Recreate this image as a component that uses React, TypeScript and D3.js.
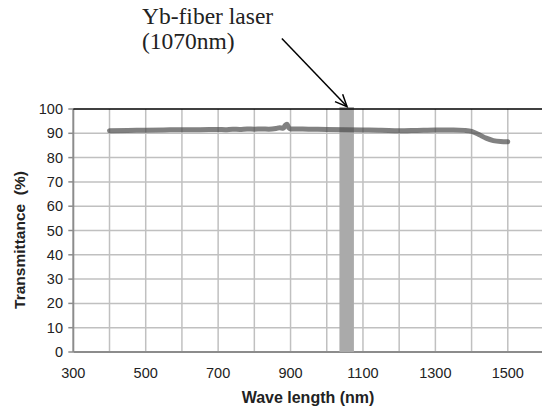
import React from "react";
import * as d3 from "d3";

const wavelengths = [400, 450, 500, 550, 600, 650, 700, 720, 740, 760, 780, 800, 820, 840, 860, 870, 880, 885, 890, 895, 900, 950, 1000, 1050, 1100, 1150, 1200, 1250, 1300, 1350, 1380, 1400, 1420, 1440, 1460, 1480, 1500];
const transmittance = [91.1, 91.2, 91.3, 91.4, 91.5, 91.5, 91.6, 91.5, 91.7, 91.6, 91.8, 91.7, 91.8, 91.7, 92.0, 92.3, 92.1, 93.2, 93.7, 92.3, 91.8, 91.7, 91.6, 91.5, 91.4, 91.3, 91.0, 91.2, 91.4, 91.4, 91.2, 90.8, 89.5, 88.0, 87.0, 86.6, 86.5];
const xTicks = [300, 500, 700, 900, 1100, 1300, 1500];
const xGrid = [400, 500, 600, 700, 800, 900, 1000, 1100, 1200, 1300, 1400, 1500];
const yTicks = [0, 10, 20, 30, 40, 50, 60, 70, 80, 90, 100];
const laserBand = [1035, 1075];
const annotationLines = ["Yb-fiber laser", "(1070nm)"];
const arrowFrom = [876, 129];
const arrowTo = [1056, 101];

export default function App() {
  const W = 542, H = 412;
  const x = d3.scaleLinear().domain([300, 1600]).range([73.3, 544]);
  const y = d3.scaleLinear().domain([0, 100]).range([352, 109]);
  const pts = wavelengths.map((w, i) => [w, transmittance[i]] as [number, number]);
  const line = d3.line<[number, number]>().x(d => x(d[0])).y(d => y(d[1])).curve(d3.curveMonotoneX);
  const ax = x(arrowFrom[0]), ay = y(arrowFrom[1]);
  const bx = x(arrowTo[0]), by = y(arrowTo[1]);
  const ang = Math.atan2(by - ay, bx - ax);
  const hl = 13, ha = 0.42;
  const h1 = [bx - hl * Math.cos(ang - ha), by - hl * Math.sin(ang - ha)];
  const h2 = [bx - hl * Math.cos(ang + ha), by - hl * Math.sin(ang + ha)];
  const sans = "Liberation Sans, Arial, sans-serif";
  const serif = "Liberation Serif, Times New Roman, serif";
  return (
    <svg width={W} height={H} style={{ position: "absolute", left: 0, top: 0, background: "#fff" }}>
      {xGrid.map(v => (
        <line key={"gx" + v} x1={x(v)} x2={x(v)} y1={y(0)} y2={y(100)} stroke="#c0c0c0" strokeWidth={1.5} />
      ))}
      {yTicks.filter(v => v > 0 && v < 100).map(v => (
        <line key={"gy" + v} x1={x(300)} x2={W} y1={y(v)} y2={y(v)} stroke="#c0c0c0" strokeWidth={1.5} />
      ))}
      <line x1={x(300)} x2={W} y1={y(0)} y2={y(0)} stroke="#8c8c8c" strokeWidth={2} />
      <line x1={x(300)} x2={x(300)} y1={y(0)} y2={y(100)} stroke="#8c8c8c" strokeWidth={2} />
      {yTicks.map(v => (
        <line key={"ty" + v} x1={x(300) - 5} x2={x(300)} y1={y(v)} y2={y(v)} stroke="#8c8c8c" strokeWidth={1.5} />
      ))}
      <rect x={x(laserBand[0])} y={y(100) - 2} width={x(laserBand[1]) - x(laserBand[0])} height={y(0) - y(100) + 2} fill="#aaaaaa" />
      <path d={line(pts) || ""} fill="none" stroke="#484848" strokeOpacity={0.69} strokeWidth={5} strokeLinejoin="round" strokeLinecap="round" />
      <line x1={x(300)} x2={W} y1={y(100)} y2={y(100)} stroke="#000" strokeWidth={1.5} />
      {yTicks.map(v => (
        <text key={"ly" + v} x={63} y={y(v)} dy="0.35em" textAnchor="end" fontFamily={sans} fontSize={14.5} fill="#222">{v}</text>
      ))}
      {xTicks.map(v => (
        <text key={"lx" + v} x={x(v)} y={378} textAnchor="middle" fontFamily={sans} fontSize={14.5} fill="#222">{v}</text>
      ))}
      <text x={308} y={403} textAnchor="middle" fontFamily={sans} fontSize={16} fontWeight="bold" fill="#222">Wave length (nm)</text>
      <text transform={`translate(25, 240) rotate(-90)`} textAnchor="middle" fontFamily={sans} fontSize={15.5} fontWeight="bold" fill="#222" style={{ whiteSpace: "pre" }}>Transmittance  (%)</text>
      {annotationLines.map((t, i) => (
        <text key={"an" + i} x={142} y={24 + i * 25} fontFamily={serif} fontSize={23.5} fill="#222">{t}</text>
      ))}
      <line x1={ax} y1={ay} x2={bx} y2={by} stroke="#000" strokeWidth={1.5} />
      <polyline points={`${h1[0]},${h1[1]} ${bx},${by} ${h2[0]},${h2[1]}`} fill="none" stroke="#000" strokeWidth={1.5} />
    </svg>
  );
}
